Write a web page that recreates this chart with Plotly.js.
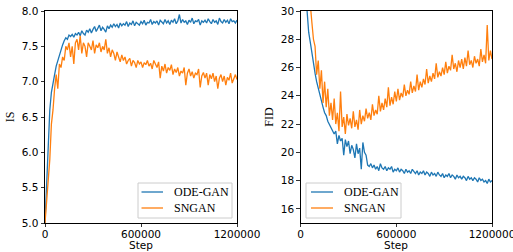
<!DOCTYPE html>
<html>
<head>
<meta charset="utf-8">
<script src="https://cdn.plot.ly/plotly-3.0.1.min.js"></script>
<style>html,body{margin:0;padding:0;background:#fff;}#plot{width:513px;height:252px;}</style>
</head>
<body>
<div id="plot"></div>
<script>
// Step grid: every 10000 steps from 0 to 1200000
const stepSize = 10000;
const nSteps = 121;
const steps = Array.from({length: nSteps}, (_, i) => i * stepSize);

const seriesNames = ["ODE-GAN", "SNGAN"];
const xTitle = "Step";
const xTickVals = [0, 600000, 1200000];
const xTickText = ["0", "600000", "1200000"];

// Inception Score (left panel)
const isOdeGan = [
5.0,5.6,6.1,6.6,6.85,7.0,7.1,7.22,7.3,7.38,
7.45,7.52,7.58,7.62,7.6,7.66,7.64,7.67,7.63,7.68,
7.66,7.70,7.65,7.72,7.68,7.66,7.73,7.70,7.75,7.69,
7.74,7.78,7.71,7.76,7.80,7.72,7.77,7.74,7.70,7.79,
7.75,7.80,7.77,7.82,7.78,7.81,7.76,7.83,7.79,7.82,
7.80,7.85,7.78,7.83,7.81,7.86,7.79,7.84,7.82,7.80,
7.85,7.82,7.87,7.80,7.84,7.83,7.88,7.81,7.85,7.83,
7.86,7.80,7.87,7.84,7.82,7.88,7.83,7.86,7.81,7.87,
7.84,7.89,7.82,7.86,7.95,7.83,7.88,7.84,7.86,7.81,
7.87,7.84,7.90,7.82,7.86,7.85,7.88,7.80,7.86,7.84,
7.87,7.83,7.89,7.85,7.82,7.88,7.84,7.86,7.81,7.90,
7.85,7.83,7.88,7.84,7.87,7.82,7.89,7.85,7.86,7.83,7.87
];
const isSngan = [
5.0,5.3,5.6,5.9,6.4,6.6,6.9,7.1,6.9,7.25,
7.2,7.35,7.3,7.5,7.45,7.55,7.35,7.5,7.25,7.55,
7.6,7.45,7.65,7.4,7.55,7.5,7.35,7.55,7.5,7.45,
7.58,7.4,7.52,7.48,7.55,7.42,7.5,7.45,7.6,7.4,
7.48,7.35,7.45,7.4,7.3,7.42,7.35,7.28,7.38,7.3,
7.35,7.25,7.3,7.33,7.22,7.3,7.27,7.2,7.3,7.25,
7.28,7.2,7.27,7.24,7.3,7.22,7.26,7.18,7.3,7.24,
7.2,7.28,7.05,7.22,7.15,7.25,7.12,7.2,7.16,7.24,
7.1,7.18,7.13,7.2,7.08,7.15,7.12,7.2,6.95,7.12,
7.18,7.08,7.14,7.05,7.12,7.1,7.18,6.92,7.08,7.13,
7.05,7.12,6.95,7.1,7.04,7.12,7.0,7.08,6.9,7.05,
7.1,7.0,7.08,6.95,7.06,7.02,7.12,6.98,7.05,7.1,7.03
];

// FID (right panel)
const fidOdeGan = [
45,40,35,31.5,30,28.5,27.8,27,26.2,25.6,
25.0,24.5,24.0,23.6,23.2,22.8,22.6,22.2,22.0,21.8,
21.6,21.3,21.5,20.6,21.2,20.8,21.0,19.8,20.9,20.4,
20.8,19.9,20.5,20.2,19.6,20.6,19.9,20.3,18.8,20.7,
20.0,19.8,19.1,19.0,19.2,18.9,19.1,18.8,19.0,18.7,
19.2,18.9,18.8,19.0,18.7,18.9,18.8,19.0,18.6,18.8,
18.7,18.9,18.6,18.8,18.7,18.5,18.8,18.6,18.7,18.5,
18.8,18.6,18.5,18.7,18.4,18.6,18.5,18.7,18.4,18.6,
18.5,18.3,18.6,18.4,18.5,18.3,18.6,18.4,18.3,18.5,
18.2,18.4,18.3,18.5,18.2,18.4,18.3,18.1,18.4,18.2,
18.3,18.1,18.3,18.2,18.0,18.3,18.1,18.2,18.0,18.2,
18.1,17.9,18.2,18.0,18.1,17.9,18.0,17.8,18.1,17.9,18.0
];
const fidSngan = [
50,45,40,36,33,31,30.5,29.2,28,27.5,
25.5,26.5,24.5,25.8,23.5,25.0,23.2,24.5,22.6,23.5,
22.3,23.8,22.0,22.8,21.5,24.3,21.8,22.5,21.3,22.7,
21.9,22.4,21.7,22.9,21.8,22.3,21.6,23.0,22.0,22.6,
22.2,23.1,22.4,22.8,22.3,23.4,22.6,23.0,22.7,24.0,
22.9,23.5,23.0,23.8,23.2,24.6,23.3,23.9,23.4,24.3,
23.6,24.5,23.7,24.2,23.9,24.8,24.0,24.4,24.1,25.0,
24.2,24.7,24.3,25.5,24.4,25.0,24.6,25.2,24.8,25.9,
24.9,25.4,25.0,25.6,25.2,26.3,25.3,25.7,25.4,26.0,
25.5,26.4,25.6,26.1,25.8,26.9,25.9,26.3,25.7,26.5,
26.0,26.6,25.9,26.7,26.1,27.2,26.2,26.5,26.0,26.8,
26.3,26.6,26.1,27.3,26.4,26.9,26.3,29.0,26.5,27.2,26.6
];

const colors = ["#1f77b4", "#ff7f0e"];
const serif = "Liberation Serif, Times New Roman, serif";
const sans = "DejaVu Sans, sans-serif";

const traces = [
  {x: steps, y: isOdeGan, name: seriesNames[0], mode: "lines", line: {color: colors[0], width: 1.3}, xaxis: "x", yaxis: "y"},
  {x: steps, y: isSngan, name: seriesNames[1], mode: "lines", line: {color: colors[1], width: 1.3}, xaxis: "x", yaxis: "y"},
  {x: steps, y: fidOdeGan, name: seriesNames[0], mode: "lines", line: {color: colors[0], width: 1.3}, xaxis: "x2", yaxis: "y2"},
  {x: steps, y: fidSngan, name: seriesNames[1], mode: "lines", line: {color: colors[1], width: 1.3}, xaxis: "x2", yaxis: "y2"}
];

const W = 513, H = 252;
const px = v => v / W, py = v => 1 - v / H;
const yDom = [29 / H, 1 - 11 / H];
const xDom1 = [45 / W, 237 / W], xDom2 = [300.7 / W, 492 / W];
const axBase = {
  showline: true, mirror: true, linecolor: "#000", linewidth: 1,
  ticks: "outside", ticklen: 3.5, tickwidth: 0.8, tickcolor: "#000",
  showgrid: false, zeroline: false, ticklabeloverflow: "allow",
  tickfont: {family: sans, size: 10.5, color: "#000"}
};
const xBase = Object.assign({}, axBase, {
  range: [0, 1200000], tickmode: "array", tickvals: xTickVals, ticktext: xTickText,
  ticklen: 3, ticklabelstandoff: -2
});

// Legend boxes drawn as shapes + annotations (matplotlib-style compact legend)
const legendBoxes = [
  {x0: 138, x1: 232, y0: 183, y1: 218, lineX0: 141.5, lineX1: 163, textX: 172},
  {x0: 306, x1: 401, y0: 183, y1: 218, lineX0: 311, lineX1: 333, textX: 342}
];
const entryY = [192, 208];
const shapes = [], annotations = [];
legendBoxes.forEach(b => {
  shapes.push({type: "rect", xref: "paper", yref: "paper", x0: px(b.x0), x1: px(b.x1), y0: py(b.y1), y1: py(b.y0),
    line: {color: "#cccccc", width: 1}, fillcolor: "rgba(255,255,255,0.85)", layer: "above"});
  seriesNames.forEach((n, i) => {
    shapes.push({type: "line", xref: "paper", yref: "paper", x0: px(b.lineX0), x1: px(b.lineX1), y0: py(entryY[i]), y1: py(entryY[i]),
      line: {color: colors[i], width: 1.3}, layer: "above"});
    annotations.push({xref: "paper", yref: "paper", x: px(b.textX), y: py(entryY[i]), xanchor: "left", yanchor: "middle",
      text: n, showarrow: false, font: {family: serif, size: 12, color: "#000"}});
  });
});
// x-axis titles
[xDom1, xDom2].forEach(d => {
  annotations.push({xref: "paper", yref: "paper", x: (d[0] + d[1]) / 2, y: 0, xanchor: "center", yanchor: "bottom",
    text: xTitle, showarrow: false, borderpad: 0, font: {family: sans, size: 10.5, color: "#000"}});
});

const layout = {
  width: W, height: H,
  margin: {l: 0, r: 0, t: 0, b: 0},
  paper_bgcolor: "#fff", plot_bgcolor: "#fff",
  showlegend: false,
  xaxis: Object.assign({}, xBase, {domain: xDom1, anchor: "y"}),
  yaxis: Object.assign({}, axBase, {domain: yDom, anchor: "x", range: [5.0, 8.0], dtick: 0.5, tickformat: ".1f",
    title: {text: "IS", font: {family: serif, size: 12, color: "#000"}, standoff: 4}}),
  xaxis2: Object.assign({}, xBase, {domain: xDom2, anchor: "y2"}),
  yaxis2: Object.assign({}, axBase, {domain: yDom, anchor: "x2", range: [15, 30], dtick: 2, tick0: 16,
    title: {text: "FID", font: {family: serif, size: 12, color: "#000"}, standoff: 4}}),
  shapes: shapes,
  annotations: annotations
};

Plotly.newPlot("plot", traces, layout, {staticPlot: true, displayModeBar: false});
</script>
</body>
</html>
